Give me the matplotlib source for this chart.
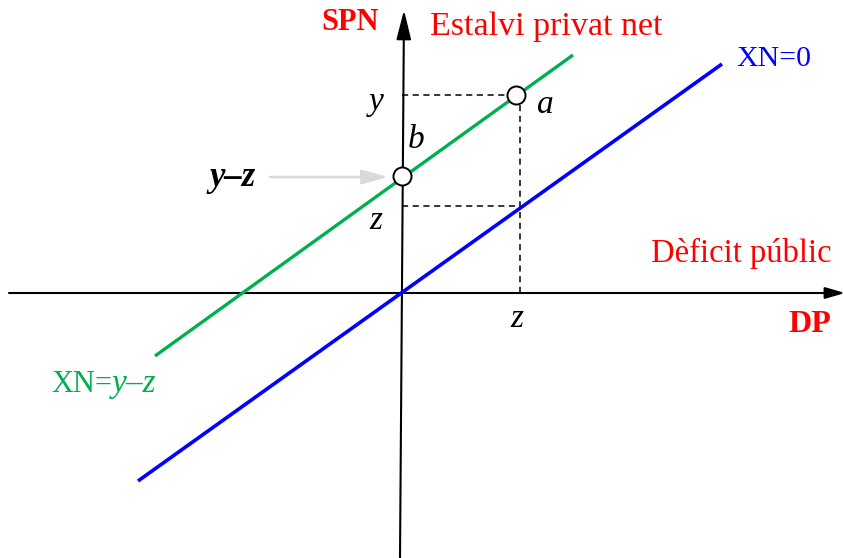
import matplotlib
matplotlib.use("Agg")
import matplotlib.pyplot as plt

plt.rcParams['font.family'] = ['Liberation Serif', 'DejaVu Serif']

# ---- data (diagram units, origin at axes crossing) ----
blue_x = [-264, 320]          # XN=0 line
blue_y = [-188, 229]
green_x = [-247, 171]         # XN=y-z line
green_y = [-63, 238]
point_a = (114, 198)          # point a on green line
point_yz = (0, 117)           # intercept y-z
level_y = 198                 # y on vertical axis
level_z = 87                  # z on vertical axis
z_x = 118                     # z on horizontal axis

x_axis = ([-393, 443], [0, 0])
y_axis = ([-2, 2], [-265, 283])

fig = plt.figure(figsize=(8.45, 5.58), dpi=100)
ax = fig.add_axes([0, 0, 1, 1])
ax.set_xlim(-402, 443)
ax.set_ylim(-265, 293)
ax.axis('off')

red = '#ff0000'
green = '#00b050'
blue = '#0000ff'

# axes with arrows
ax.annotate('', xy=(x_axis[0][1], 0), xytext=(x_axis[0][0], 0),
            arrowprops=dict(arrowstyle='-|>,head_length=1.2,head_width=0.35',
                            color='black', lw=1.5, shrinkA=0, shrinkB=0))
ax.annotate('', xy=(y_axis[0][1], y_axis[1][1]), xytext=(y_axis[0][0], y_axis[1][0]),
            arrowprops=dict(arrowstyle='-|>,head_length=1.8,head_width=0.45',
                            color='black', lw=1.5, shrinkA=0, shrinkB=0))

# lines
ax.plot(blue_x, blue_y, color=blue, lw=2.6, solid_capstyle='butt', zorder=3)
ax.plot(green_x, green_y, color=green, lw=2.4, solid_capstyle='butt', zorder=3)

# dashed guides
dash = dict(color='black', lw=1.1, ls=(0, (4, 3)), zorder=2)
ax.plot([0, point_a[0]], [level_y, level_y], **dash)
ax.plot([0, z_x], [level_z, level_z], **dash)
ax.plot([z_x, z_x], [0, point_a[1]], **dash)

# points
ax.plot([point_a[0], point_yz[0]], [point_a[1], point_yz[1]], 'o', ms=13,
        mfc='white', mec='black', mew=1.4, zorder=5)

# gray arrow
ax.annotate('', xy=(-14, 116), xytext=(-132, 116),
            arrowprops=dict(arrowstyle='-|>,head_length=1.6,head_width=0.45',
                            color='#d9d9d9', lw=1.8, shrinkA=0, shrinkB=0))

# texts
ax.text(-52, 270, 'SPN', color=red, fontsize=22, fontweight='bold', ha='center', va='center')
ax.text(144, 266, 'Estalvi privat net', color=red, fontsize=24.5, ha='center', va='center')
ax.text(372, 234, 'XN=0', color=blue, fontsize=21.5, ha='center', va='center')
ax.text(339, 40, 'Dèficit públic', color=red, fontsize=23.5, ha='center', va='center')
ax.text(408, -32, 'DP', color=red, fontsize=23, fontweight='bold', ha='center', va='center')
ax.text(-26, 191, 'y', fontsize=24, style='italic', ha='center', va='center')
ax.text(143, 188, 'a', fontsize=24, style='italic', ha='center', va='center')
ax.text(14, 153, 'b', fontsize=24, style='italic', ha='center', va='center')
ax.text(-26, 72, 'z', fontsize=24, style='italic', ha='center', va='center')
ax.text(115, -26, 'z', fontsize=24, style='italic', ha='center', va='center')
ax.text(-169, 116, 'y–z', fontsize=25, style='italic', fontweight='bold', ha='center', va='center')
ax.text(-290, -91, 'XN=', color=green, fontsize=22, ha='right', va='center')
ax.text(-290, -91, 'y–z', color=green, fontsize=24, style='italic', ha='left', va='center')

fig.savefig('out.png', dpi=100)
